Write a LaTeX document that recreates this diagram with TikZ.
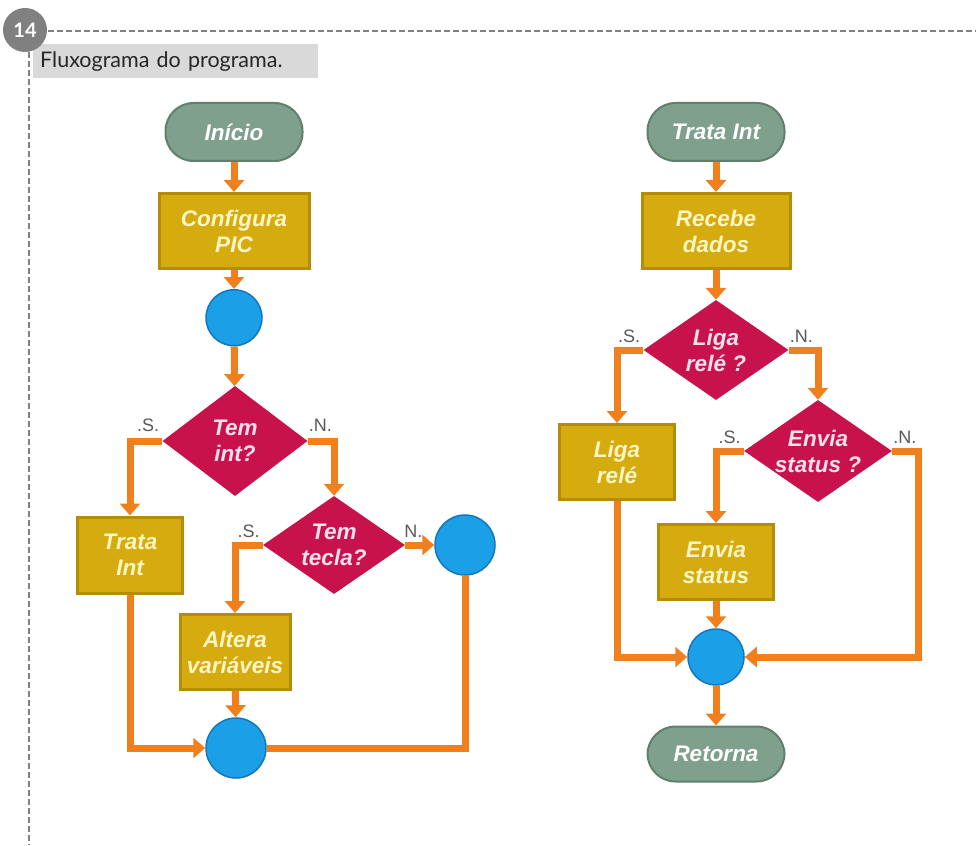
\documentclass[tikz,border=0pt]{standalone}
\usepackage{fontspec}
\setmainfont{Liberation Sans}
\newfontfamily\titlefont{Lato}
\usetikzlibrary{positioning,shapes.geometric,arrows.meta}
\definecolor{termcol}{HTML}{7FA08C}
\definecolor{termdark}{HTML}{5F806B}
\definecolor{boxcol}{HTML}{D6AB10}
\definecolor{boxdark}{HTML}{B48C06}
\definecolor{boxtext}{HTML}{FFF6C4}
\definecolor{diacol}{HTML}{C8124C}
\definecolor{diatext}{HTML}{FFE0EC}
\definecolor{juncol}{HTML}{1BA0E8}
\definecolor{jundark}{HTML}{1476BC}
\definecolor{flowcol}{HTML}{F0801E}
\definecolor{titlegray}{HTML}{D9D9D9}
\definecolor{badgegray}{HTML}{808080}

\begin{document}
\begin{tikzpicture}
[x=1pt, y=-1pt,
 every node/.style={font=\fontsize{22.5}{26}\selectfont\bfseries\itshape, align=center},
 terminal/.style={fill=termcol, draw=termdark, line width=2pt, rounded corners=28pt, minimum width=137pt, minimum height=58pt, text=white},
 procbox/.style={fill=boxcol, draw=boxdark, line width=3pt, minimum width=150pt, minimum height=75pt, text=boxtext},
 decision/.style={diamond, aspect=1.45, fill=diacol, text=diatext, inner sep=0pt},
 junction/.style={circle, fill=juncol, draw=jundark, line width=1.5pt, minimum size=56pt, inner sep=0pt},
 flowline/.style={draw=flowcol, line width=7pt},
 flow/.style={flowline, -{Triangle[width=20pt,length=12pt]}},
 branchlbl/.style={font=\fontsize{18}{18}\selectfont, text=gray!70!black, inner sep=1pt},
 framedash/.style={draw=gray, line width=1.3pt, dash pattern=on 6pt off 3pt}]
\useasboundingbox (0,0) rectangle (976,845);

% frame and title
\draw[framedash] (48,31) -- (976,31);
\draw[framedash] (29,52) -- (29,845);
\node[fill=titlegray, anchor=north west, text width=271pt, minimum height=34pt, inner xsep=7pt, inner ysep=0pt, align=left, font=\titlefont\fontsize{21.5}{21.5}\selectfont, text=black!85] (title) at (33,44) {Fluxograma do programa.};
\node[circle, fill=badgegray, minimum size=44pt, inner sep=0pt, text=white, font=\titlefont\fontsize{20}{20}\selectfont\bfseries] (badge) at (25,30) {14};

% programa principal
\node[terminal] (ini) at (234,132) {Início};
\node[procbox, below=30pt of ini] (cfg) {Configura\\PIC};
\node[junction, below=19pt of cfg] (j1) {};
\node[decision, minimum width=145pt, minimum height=110pt] (temint) at (235,441) {Tem\\int?};
\node[procbox, minimum width=105pt, minimum height=76pt] (trata) at (130,555) {Trata\\Int};
\node[decision, minimum width=142pt, minimum height=98pt] (temtecla) at (334,545) {Tem\\tecla?};
\node[junction, minimum size=60pt] (j2) at (465,545) {};
\node[procbox, minimum width=110pt] (altera) at (235,652) {Altera\\variáveis};
\node[junction, minimum size=60pt] (j3) at (236,748) {};

\node[branchlbl, above left=8pt and 2pt of temint.west] (s1) {.S.};
\node[branchlbl, above right=8pt and 0pt of temint.east] (n1) {.N.};
\node[branchlbl, above left=6pt and 2pt of temtecla.west] (s2) {.S.};
\node[branchlbl, above right=6pt and -2pt of temtecla.east] (n2) {N.};

\draw[flow] (ini) -- (cfg);
\draw[flow] (cfg) -- (j1);
\draw[flow] (j1) -- (temint);
\draw[flow] (temint.west) -| (trata.north);
\draw[flow] (temint.east) -| (temtecla.north);
\draw[flow] (temtecla.east) -- (j2);
\draw[flow] (temtecla.west) -| (altera.north);
\draw[flow] (altera) -- (j3);
\draw[flow] (trata.south) |- (j3.west);
\draw[flowline] (j2.south) |- (j3.east);

% tratamento da interrupcao
\node[terminal] (trt) at (716,132) {Trata Int};
\node[procbox, minimum width=148pt, below=30pt of trt] (rec) {Recebe\\dados};
\node[decision, minimum width=145pt, minimum height=100pt] (liga) at (716,350) {Liga\\relé ?};
\node[procbox, minimum width=115pt] (ligabox) at (617,462) {Liga\\relé};
\node[decision, minimum width=145pt, minimum height=102pt] (envia) at (818,451) {Envia\\status ?};
\node[procbox, minimum width=115pt] (enviabox) at (716,562) {Envia\\status};
\node[junction] (j4) at (716,657) {};
\node[terminal, minimum height=55pt] (ret) at (716,754) {Retorna};
\coordinate (nr) at (918,657);

\node[branchlbl, above left=6pt and 2pt of liga.west] (s3) {.S.};
\node[branchlbl, above right=6pt and 0pt of liga.east] (n3) {.N.};
\node[branchlbl, above left=6pt and 2pt of envia.west] (s4) {.S.};
\node[branchlbl, above right=6pt and 0pt of envia.east] (n4) {.N.};

\draw[flow] (trt) -- (rec);
\draw[flow] (rec) -- (liga);
\draw[flow] (liga.west) -| (ligabox.north);
\draw[flow] (liga.east) -| (envia.north);
\draw[flow] (envia.west) -| (enviabox.north);
\draw[flow] (enviabox) -- (j4);
\draw[flow] (ligabox.south) |- (j4.west);
\draw[flow] (envia.east) -| (nr) -- (j4.east);
\draw[flow] (j4) -- (ret);
\end{tikzpicture}
\end{document}
